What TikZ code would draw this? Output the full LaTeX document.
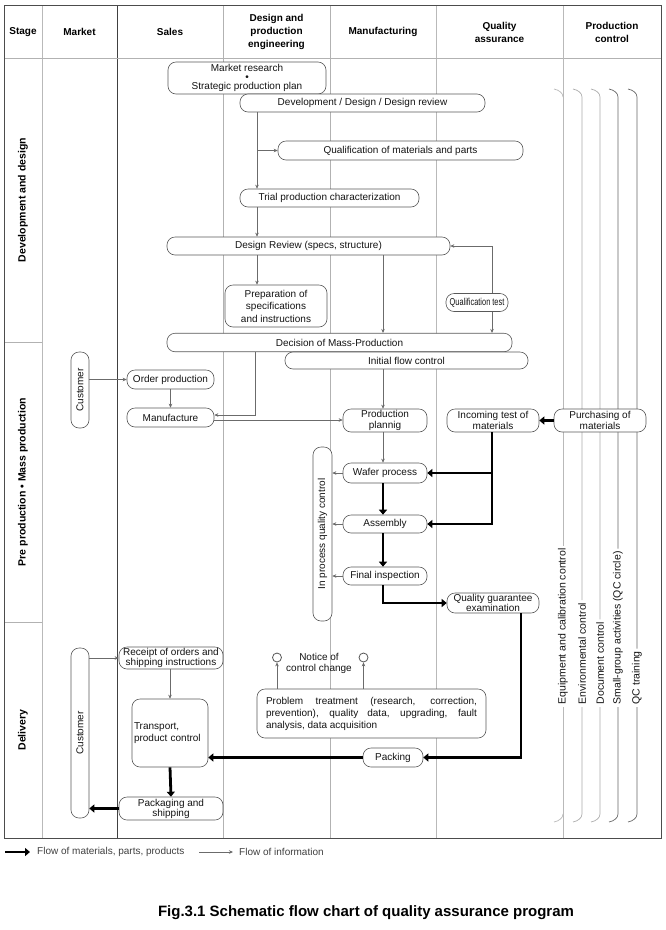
\documentclass[tikz,border=0pt]{standalone}
\usepackage{graphicx}
\usepackage{fontspec}
\setmainfont{Liberation Sans}
\usetikzlibrary{arrows.meta}
\definecolor{bordc}{gray}{0.35}
\definecolor{infoc}{gray}{0.42}
\definecolor{txtc}{gray}{0.08}
\newcommand{\myfs}[2]{\fontsize{#1}{#2}\selectfont}
\begin{document}
\begin{tikzpicture}[x=1pt,y=-1pt,
 box/.style={draw=bordc, fill=white, rounded corners=8pt, inner sep=0pt, align=center, text=txtc, line width=0.6pt, font=\myfs{10}{11}},
 info/.style={draw=infoc, line width=0.6pt, -{Stealth[length=4pt,width=3.5pt]}},
 mat/.style={draw=black, line width=2.8pt, line join=miter, -{Triangle[length=5pt,width=8pt]}},
 hdr/.style={font=\bfseries\myfs{10}{13}, align=center, text=black},
 stagelbl/.style={font=\bfseries\myfs{10.5}{12}, rotate=90, text=black},
 pclbl/.style={font=\myfs{10.5}{12}, rotate=90, anchor=west, inner sep=2.5pt, text=txtc},
 gridline/.style={line width=0.7pt}]
\useasboundingbox (0,0) rectangle (665,930);
\fill[white] (0,0) rectangle (665,930);

% grid
\draw[gridline, draw=gray!55] (42,5) -- (42,838);
\draw[gridline, draw=black!75] (117,5) -- (117,838);
\draw[gridline, draw=gray!60] (223,5) -- (223,838);
\draw[gridline, draw=gray!60] (330,5) -- (330,838);
\draw[gridline, draw=gray!55] (436,5) -- (436,838);
\draw[gridline, draw=gray!55] (563,5) -- (563,58);
\draw[gridline, draw=gray!60] (4,58) -- (661,58);
\draw[gridline, draw=gray!60] (4,342) -- (42,342);
\draw[gridline, draw=gray!60] (4,622) -- (42,622);

% headers
\node[hdr] (hstage) at (23,32) {Stage};
\node[hdr] (hmarket) at (79.5,32) {Market};
\node[hdr] (hsales) at (170,32) {Sales};
\node[hdr] (hdesign) at (276.5,32) {Design and\\production\\engineering};
\node[hdr] (hmanuf) at (383,32) {Manufacturing};
\node[hdr] (hqa) at (499.5,32.5) {Quality\\assurance};
\node[hdr] (hpc) at (612,32.5) {Production\\control};

\node[stagelbl] (sdev) at (23,200) {Development and design};
\node[stagelbl] (spre) at (23,482) {Pre production \textbullet{} Mass production};
\node[stagelbl] (sdel) at (23,730) {Delivery};

% production control lines
\node[pclbl] (l1) at (563,707) {Equipment and calibration control};
\node[pclbl] (l2) at (582,707) {Environmental control};
\node[pclbl] (l3) at (600,707) {Document control};
\node[pclbl] (l4) at (618,707) {Small-group activities (QC circle)};
\node[pclbl] (l5) at (637,707) {QC training};
\draw[gridline, draw=gray!55] (563,58) -- (l1.east);
\draw[gridline, draw=gray!55] (l1.west) -- (563,838);
\draw[gridline, draw=gray!55] (554,89) .. controls (559,90) and (563,93) .. (563,97);
\draw[gridline, draw=gray!55] (563,814) .. controls (563,818) and (559,821) .. (554,822);
\draw[gridline, draw=gray!65] (573,89) .. controls (578,90) and (582,93) .. (582,97) -- (l2.east);
\draw[gridline, draw=gray!65] (l2.west) -- (582,814) .. controls (582,818) and (578,821) .. (573,822);
\draw[gridline, draw=gray!65] (591,89) .. controls (596,90) and (600,93) .. (600,97) -- (l3.east);
\draw[gridline, draw=gray!65] (l3.west) -- (600,814) .. controls (600,818) and (596,821) .. (591,822);
\draw[gridline, draw=black!60] (609,89) .. controls (614,90) and (618,93) .. (618,97) -- (l4.east);
\draw[gridline, draw=black!60] (l4.west) -- (618,814) .. controls (618,818) and (614,821) .. (609,822);
\draw[gridline, draw=black!60] (628,89) .. controls (633,90) and (637,93) .. (637,97) -- (l5.east);
\draw[gridline, draw=black!60] (l5.west) -- (637,814) .. controls (637,818) and (633,821) .. (628,822);

\draw[line width=0.9pt, draw=black!70] (4,5) rectangle (661,838);

% nodes
\node[box, minimum width=158pt, minimum height=32pt, font=\myfs{10}{9}] (mr) at (247,78) {Market research\\\textbullet\\Strategic production plan};
\node[box, minimum width=245pt, minimum height=18pt] (dev) at (362.5,103) {Development / Design / Design review};
\node[box, minimum width=245pt, minimum height=19pt] (qual) at (400.5,150.5) {Qualification of materials and parts};
\node[box, minimum width=179pt, minimum height=18pt] (trial) at (329.5,198) {Trial production characterization};
\node[box, minimum width=283pt, minimum height=18pt] (dr) at (308.5,246) {Design Review (specs, structure)};
\node[box, minimum width=102pt, minimum height=42pt, font=\myfs{10}{12.5}] (prep) at (276,306) {Preparation of\\specifications\\and instructions};
\node[box, minimum width=62pt, minimum height=18pt] (qt) at (477,302.5) {\scalebox{0.74}[1]{Qualification test}};
\node[box, minimum width=345pt, minimum height=18.5pt] (dmp) at (339.5,342.5) {Decision of Mass-Production};
\node[box, minimum width=243pt, minimum height=17pt] (ifc) at (406.5,360.5) {Initial flow control};
\node[box, minimum width=18pt, minimum height=76pt] (cust1) at (80,390) {\rotatebox{90}{Customer}};
\node[box, minimum width=87pt, minimum height=19pt] (op) at (170.5,379.5) {Order production};
\node[box, minimum width=87pt, minimum height=19pt] (mf) at (170.5,417.5) {Manufacture};
\node[box, minimum width=84pt, minimum height=23pt] (pp) at (385,420.5) {Production\\plannig};
\node[box, minimum width=92pt, minimum height=23pt] (itm) at (493,420.5) {Incoming test of\\materials};
\node[box, minimum width=92pt, minimum height=23pt] (pm) at (600,420.5) {Purchasing of\\materials};
\node[box, minimum width=19pt, minimum height=174pt] (ipqc) at (322.5,534) {\rotatebox{90}{In process quality control}};
\node[box, minimum width=84pt, minimum height=20pt] (wp) at (385,473) {Wafer process};
\node[box, minimum width=84pt, minimum height=18pt] (asm) at (385,524) {Assembly};
\node[box, minimum width=84pt, minimum height=18pt] (fi) at (385,576) {Final inspection};
\node[box, minimum width=92pt, minimum height=20pt, font=\myfs{10}{10}] (qge) at (493,603) {Quality guarantee\\examination};
\node[box, minimum width=229pt, minimum height=49pt, text width=211pt, align=justify, font=\myfs{10}{12}] (pt) at (371.5,713.5) {Problem treatment (research, correction,\linebreak prevention), quality data, upgrading, fault\linebreak analysis, data acquisition};
\node[font=\myfs{10}{11}, align=center, text=txtc, inner sep=0pt] (notice) at (319,663.5) {Notice of\\control change};
\node[circle, draw=bordc, fill=white, minimum size=9pt, inner sep=0pt, line width=0.8pt] (c1) at (277,657.5) {};
\node[circle, draw=bordc, fill=white, minimum size=9pt, inner sep=0pt, line width=0.8pt] (c2) at (363.5,657.5) {};
\node[box, minimum width=60pt, minimum height=19pt] (pk) at (393,757.5) {Packing};
\node[box, minimum width=18pt, minimum height=170pt] (cust2) at (80,733) {\rotatebox{90}{Customer}};
\node[box, minimum width=104pt, minimum height=22pt, font=\myfs{10}{10}] (rcpt) at (171,658) {Receipt of orders and\\shipping instructions};
\node[box, minimum width=76pt, minimum height=68pt, text width=72pt, align=left, font=\myfs{10}{12}] (tr) at (170,733) {Transport,\\product control};
\node[box, minimum width=104pt, minimum height=23pt, font=\myfs{10}{10}] (pkg) at (171,808.5) {Packaging and\\shipping};

% helper x positions
\coordinate (xa) at (257,0);
\coordinate (xb) at (383,0);
\coordinate (xc) at (492,0);
\coordinate (xd) at (255,0);
\coordinate (xe) at (521,0);

% information flow
\draw[info] (dev.south -| xa) -- (trial.north -| xa);
\draw[info] (qual.west -| xa) -- (qual.west);
\draw[info] (trial.south -| xa) -- (dr.north -| xa);
\draw[info] (dr.south -| xa) -- (prep.north -| xa);
\draw[info] (dr.south -| xb) -- (dmp.north -| xb);
\draw[info] (qt.north -| xc) |- (dr.east);
\draw[info] (qt.south -| xc) -- (dmp.north -| xc);
\draw[info] (dmp.south -| xd) |- ([yshift=2.5pt]mf.east);
\draw[info] ([yshift=-2.5pt]mf.east) -- ([yshift=-2.5pt]mf.east -| pp.west);
\draw[info] (ifc.south -| xb) -- (pp.north -| xb);
\draw[info] (cust1.east |- op.west) -- (op.west);
\draw[info] (op.south) -- (mf.north);
\draw[info] (pp.south -| xb) -- (wp.north -| xb);
\draw[info] (wp.west) -- (wp.west -| ipqc.east);
\draw[info] (asm.west) -- (asm.west -| ipqc.east);
\draw[info] (fi.west) -- (fi.west -| ipqc.east);
\draw[info] (cust2.east |- rcpt.west) -- (rcpt.west);
\draw[info] (rcpt.south -| tr.north) -- (tr.north);
\draw[info] (pt.north -| c1) -- (c1.south);
\draw[info] (pt.north -| c2) -- (c2.south);

% material flow
\draw[mat] (pm.west) -- (itm.east);
\draw[mat] (itm.south -| xc) |- (asm.east);
\draw[mat] (wp.east -| xc) -- (wp.east);
\draw[mat] (wp.south -| xb) -- (asm.north -| xb);
\draw[mat] (asm.south -| xb) -- (fi.north -| xb);
\draw[mat] (fi.south -| xb) |- (qge.west);
\draw[mat] (qge.south -| xe) |- (pk.east);
\draw[mat] (pk.west) -- (pk.west -| tr.east);
\draw[mat] (tr.south) -- (pkg.north);
\draw[mat] (pkg.west) -- (pkg.west -| cust2.east);

% legend
\coordinate (lg1) at (5,852);
\coordinate (lg2) at (30,852);
\coordinate (lg3) at (199,852);
\coordinate (lg4) at (233,852);
\draw[mat] (lg1) -- (lg2);
\node[anchor=west, font=\myfs{10}{11}, text=black!75, inner sep=0pt] (lgt1) at (37,852) {Flow of materials, parts, products};
\draw[info] (lg3) -- (lg4);
\node[anchor=west, font=\myfs{10}{11}, text=black!75, inner sep=0pt] (lgt2) at (239,852) {Flow of information};

% caption
\node[font=\bfseries\myfs{15}{17}, text=black] (cap) at (366,913) {Fig.3.1 Schematic flow chart of quality assurance program};
\end{tikzpicture}
\end{document}
